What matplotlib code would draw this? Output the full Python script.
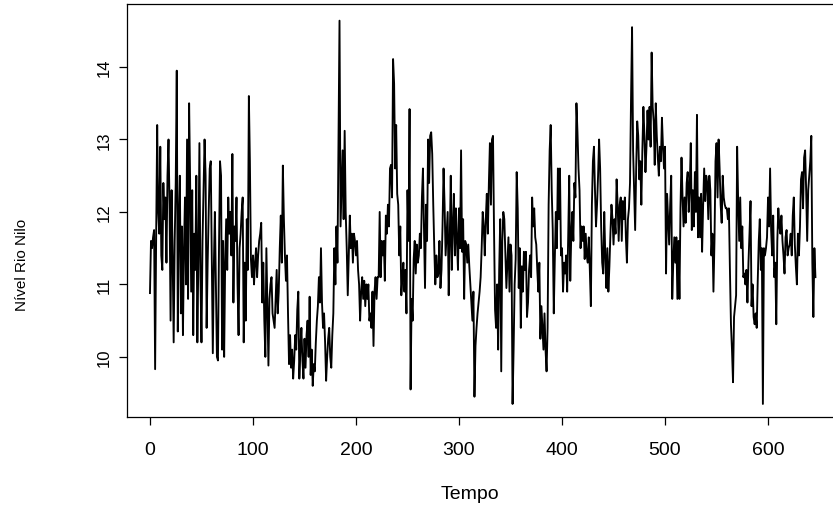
import matplotlib

matplotlib.use("Agg")
import matplotlib.pyplot as plt
import numpy as np

plt.rcParams["font.family"] = ["Liberation Sans", "DejaVu Sans"]

# nivel do rio Nilo (um valor por passo de tempo)
nivel = [
    10.88, 11.6, 11.5, 11.65, 11.75, 9.83, 11.65, 13.2, 12.0, 11.7,
    12.9, 11.4, 11.2, 12.4, 11.9, 12.2, 11.3, 12.5, 13.0, 12.1,
    10.5, 12.3, 11.4, 10.2, 11.6, 12.4, 13.95, 10.35, 11.9, 12.5,
    10.6, 11.8, 10.3, 11.5, 12.2, 11.0, 13.0, 10.8, 13.5, 12.4,
    10.9, 12.3, 10.3, 11.7, 11.2, 12.5, 10.2, 11.4, 12.95, 11.1,
    10.2, 11.6, 12.3, 13.0, 12.5, 10.4, 11.3, 12.0, 12.6, 12.7,
    11.4, 10.05, 11.25, 12.0, 11.0, 10.0, 9.95, 11.5, 12.7, 12.5,
    10.1, 11.6, 10.0, 11.3, 11.9, 11.2, 12.2, 11.7, 12.0, 11.4,
    12.8, 10.75, 11.8, 11.6, 12.2, 11.0, 10.3, 11.5, 11.7, 12.0,
    12.2, 10.2, 11.3, 10.5, 11.9, 11.2, 13.6, 12.7, 11.35, 11.1,
    11.4, 11.0, 11.3, 11.5, 11.1, 11.4, 11.6, 11.7, 11.85, 10.75,
    11.3, 10.5, 10.0, 11.5, 10.7, 9.88, 10.8, 11.0, 11.1, 10.6,
    10.5, 10.4, 10.8, 11.2, 10.6, 10.9, 11.5, 11.95, 11.3, 12.64,
    11.9, 11.4, 11.05, 11.4, 10.6, 9.9, 10.3, 9.85, 10.1, 9.7,
    9.95, 10.3, 10.1, 10.65, 10.9, 9.7, 10.1, 10.4, 9.95, 9.7,
    10.25, 9.85, 10.3, 10.5, 10.0, 10.83, 9.75, 10.1, 9.6, 9.9,
    9.8, 10.2, 10.5, 10.7, 11.1, 10.75, 11.5, 10.75, 10.4, 10.6,
    10.2, 9.67, 10.0, 10.25, 10.4, 10.0, 9.85, 10.3, 10.6, 11.5,
    11.0, 11.8, 11.3, 13.03, 14.64, 11.8, 12.3, 12.85, 11.9, 13.12,
    12.0, 11.5, 10.85, 11.4, 11.95, 11.5, 11.7, 11.3, 11.7, 11.6,
    11.4, 11.6, 11.2, 11.0, 10.5, 10.9, 11.1, 10.8, 11.05, 10.7,
    11.0, 10.8, 11.0, 10.5, 10.6, 10.4, 10.9, 10.15, 10.9, 11.1,
    10.8, 11.1, 11.1, 12.0, 11.1, 11.6, 11.4, 11.6, 11.05, 11.95,
    11.7, 12.1, 11.8, 12.6, 12.65, 12.2, 14.11, 13.77, 12.6, 13.2,
    12.25, 12.1, 11.4, 11.8, 10.85, 11.1, 11.3, 10.9, 11.2, 10.6,
    12.3, 11.6, 13.42, 9.55, 10.8, 10.5, 11.35, 11.6, 11.15, 11.55,
    11.3, 11.4, 11.7, 11.5, 12.2, 12.6, 11.8, 10.95, 12.1, 11.6,
    13.0, 12.4, 13.05, 13.1, 12.8, 12.1, 11.5, 11.0, 11.4, 11.1,
    11.15, 11.6, 10.95, 11.2, 11.8, 12.6, 12.1, 11.4, 11.7, 12.0,
    10.85, 11.6, 12.5, 11.2, 11.8, 12.25, 11.4, 12.05, 11.6, 11.2,
    12.05, 11.5, 12.85, 11.45, 11.9, 10.8, 11.6, 11.55, 11.3, 11.55,
    11.25, 11.0, 10.75, 10.5, 10.9, 9.45, 10.15, 10.4, 10.6, 10.75,
    10.9, 11.1, 11.5, 12.0, 11.8, 11.4, 11.9, 12.25, 11.7, 12.4,
    12.95, 12.1, 13.0, 13.05, 11.75, 10.65, 10.4, 11.0, 10.1, 11.2,
    11.9, 9.8, 11.6, 12.0, 11.9, 11.4, 10.95, 11.3, 11.65, 10.9,
    11.55, 11.4, 9.35, 10.1, 11.0, 11.35, 12.55, 12.05, 10.95, 11.5,
    10.4, 11.25, 10.9, 11.45, 11.2, 11.45, 10.55, 10.75, 11.2, 11.4,
    11.1, 12.2, 11.8, 12.05, 11.65, 11.55, 11.2, 10.9, 11.3, 10.25,
    10.7, 10.4, 10.1, 10.6, 10.1, 9.8, 10.4, 12.1, 12.85, 13.2,
    12.3, 11.75, 10.6, 11.35, 12.0, 11.5, 12.6, 11.9, 12.6, 11.4,
    11.5, 10.9, 11.3, 11.15, 11.4, 10.9, 11.65, 12.5, 11.05, 11.7,
    12.0, 11.6, 12.4, 12.2, 13.5, 13.1, 12.6, 12.3, 11.5, 11.8,
    11.6, 11.8, 11.35, 11.7, 11.4, 11.3, 11.65, 11.2, 10.7, 12.1,
    12.7, 12.9, 12.3, 11.8, 12.1, 12.5, 13.0, 12.6, 11.8, 11.3,
    11.15, 12.0, 11.4, 10.95, 11.5, 10.9, 11.25, 11.7, 12.1, 11.9,
    11.55, 11.9, 11.7, 12.45, 12.1, 11.6, 12.1, 12.2, 11.6, 12.15,
    11.9, 12.2, 11.65, 11.3, 11.9, 12.05, 12.4, 13.56, 14.55, 12.85,
    12.3, 11.75, 12.6, 13.25, 13.05, 12.45, 12.7, 12.1, 12.85, 13.45,
    13.05, 12.55, 12.9, 13.4, 13.0, 13.45, 12.9, 14.2, 13.45, 13.25,
    12.65, 13.5, 13.05, 12.75, 12.5, 12.9, 12.7, 13.3, 12.9, 12.6,
    12.9, 11.15, 12.25, 11.9, 11.55, 12.1, 12.5, 10.8, 11.3, 11.65,
    11.3, 11.65, 10.8, 11.6, 10.8, 12.05, 12.75, 12.2, 11.8, 12.2,
    11.85, 12.4, 12.55, 12.0, 12.35, 12.95, 11.75, 12.3, 11.8, 12.55,
    12.0, 13.34, 11.65, 12.2, 11.65, 12.25, 11.45, 12.1, 12.6, 12.15,
    12.5, 12.4, 11.9, 12.5, 12.3, 11.4, 11.7, 10.9, 11.6, 12.7,
    12.95, 12.2, 13.0, 12.6, 12.1, 11.85, 12.5, 12.2, 12.1, 12.05,
    12.05, 11.9, 12.05, 11.2, 10.45, 10.1, 9.65, 10.55, 10.7, 10.85,
    12.9, 12.15, 11.6, 12.2, 11.5, 11.8, 11.1, 11.15, 11.0, 11.2,
    10.75, 11.3, 11.7, 12.15, 10.7, 11.0, 10.55, 10.45, 10.6, 10.4,
    11.05, 11.6, 11.9, 11.2, 11.5, 9.35, 11.5, 11.4, 11.5, 11.65,
    12.2, 11.8, 12.6, 11.75, 11.4, 11.95, 11.1, 11.3, 10.45, 11.6,
    12.05, 11.8, 11.7, 11.95, 11.6, 11.4, 11.15, 11.65, 11.75, 11.4,
    11.5, 11.55, 11.7, 11.4, 11.95, 12.2, 11.55, 11.25, 11.0, 11.7,
    11.4, 11.8, 12.45, 12.55, 12.05, 12.75, 12.85, 12.3, 11.6, 12.3,
    12.5, 12.7, 13.05, 11.3, 10.55, 11.5, 11.1,
]

x_ticks = [0, 100, 200, 300, 400, 500, 600]
y_ticks = [10, 11, 12, 13, 14]

tempo = np.arange(len(nivel))

fig = plt.figure(figsize=(8.33, 5.10), dpi=100)
ax = fig.add_axes([127 / 833, 92 / 510, 715 / 833, 413 / 510])
ax.plot(tempo, nivel, color="black", lw=1.35)

ax.set_xlim(-22.3, 671.8)
ax.set_ylim(9.17, 14.87)
ax.set_xticks(x_ticks)
ax.set_yticks(y_ticks)
ax.tick_params(axis="x", length=6, width=0.9, pad=11, labelsize=14)
ax.tick_params(axis="y", length=6, width=0.9, pad=5, labelsize=12)
for lab in ax.get_yticklabels():
    lab.set_rotation(90)
    lab.set_va("center")

for side in ("left", "top", "bottom"):
    ax.spines[side].set_linewidth(0.9)
ax.spines["right"].set_visible(False)

fig.text(470 / 833, 1 - 495 / 510, "Tempo", ha="center", va="center", fontsize=14)
fig.text(22 / 833, 1 - 265 / 510, "Nível Rio Nilo", ha="center", va="center",
         rotation=90, fontsize=11)

fig.savefig("out.png", dpi=100)
